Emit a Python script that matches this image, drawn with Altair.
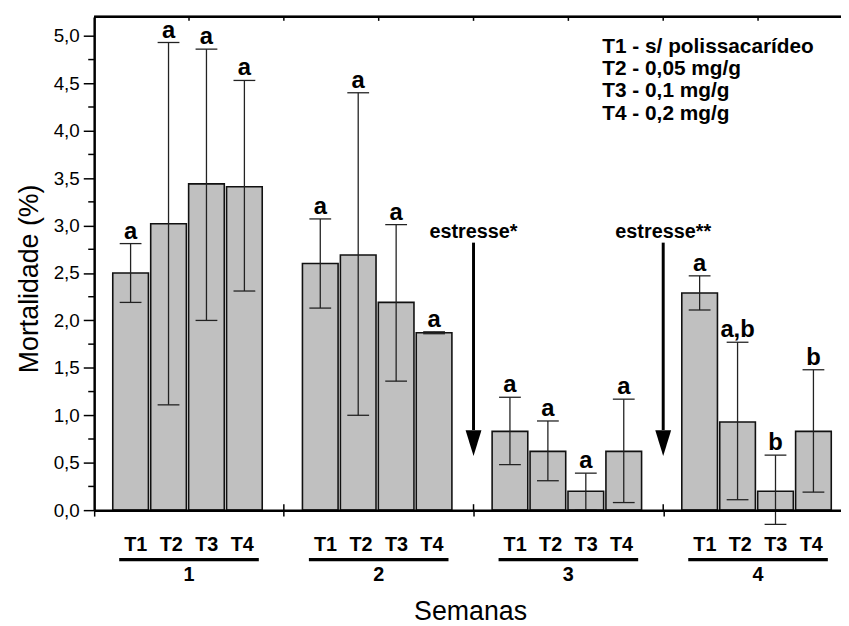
import altair as alt
import pandas as pd

# ---------------- data ----------------
weeks = ["1", "2", "3", "4"]
treatments = ["T1", "T2", "T3", "T4"]
mean = [
    [2.50, 3.02, 3.44, 3.41],
    [2.60, 2.69, 2.19, 1.87],
    [0.83, 0.62, 0.20, 0.62],
    [2.29, 0.93, 0.20, 0.83],
]
err_low = [
    [2.19, 1.11, 2.00, 2.31],
    [2.13, 1.00, 1.36, 1.86],
    [0.48, 0.31, 0.00, 0.08],
    [2.11, 0.11, -0.15, 0.19],
]
err_high = [
    [2.81, 4.93, 4.86, 4.53],
    [3.07, 4.40, 3.01, 1.88],
    [1.19, 0.94, 0.39, 1.17],
    [2.47, 1.77, 0.58, 1.48],
]
letters = [
    ["a", "a", "a", "a"],
    ["a", "a", "a", "a"],
    ["a", "a", "a", "a"],
    ["a", "a,b", "b", "b"],
]
legend_lines = ["T1 - s/ polissacarídeo", "T2 - 0,05 mg/g", "T3 - 0,1 mg/g", "T4 - 0,2 mg/g"]
stress_labels = ["estresse*", "estresse**"]
stress_after_week = [2, 3]
stress_top = 2.82
stress_tip = 0.57
y_ticks = [0.0, 0.5, 1.0, 1.5, 2.0, 2.5, 3.0, 3.5, 4.0, 4.5, 5.0]
y_minor = [0.25, 0.75, 1.25, 1.75, 2.25, 2.75, 3.25, 3.75, 4.25, 4.75]

# ---------------- layout ----------------
PW, PH = 754, 498
STEP = 38.3
XMAX = PW / STEP
YMAX = 5.2
GROUP = 5          # slots per week
HALF = 0.47        # half bar width (slot units)
SHIFT = -0.04
FONT = "Liberation Sans"

rows = []
for wi, w in enumerate(weeks):
    for ti, t in enumerate(treatments):
        pos = wi * GROUP + ti + 1 + SHIFT
        rows.append(dict(week=w, trat=t, pos=pos, x0=pos - HALF, x1=pos + HALF,
                         mean=mean[wi][ti], lo=err_low[wi][ti], hi=err_high[wi][ti],
                         letter=letters[wi][ti]))
df = pd.DataFrame(rows)

wc = [wi * GROUP + GROUP / 2 for wi in range(len(weeks))]
tlab = pd.DataFrame([dict(x=wc[wi] + (ti - 1.5) * 0.935, text=t)
                     for wi in range(len(weeks)) for ti, t in enumerate(treatments)])
wlab = pd.DataFrame(dict(x=wc, text=weeks, xa=[c - 1.84 for c in wc], xb=[c + 1.84 for c in wc]))
seps = pd.DataFrame(dict(x=[wi * GROUP for wi in range(1, len(weeks))]))
topt = pd.DataFrame(dict(x=[k * GROUP / 2 for k in range(1, 2 * len(weeks))]))
minor = pd.DataFrame(dict(v=y_minor))
stress = pd.DataFrame(dict(x=[w * GROUP for w in stress_after_week], text=stress_labels,
                           top=[stress_top] * 2,
                           headtop=[stress_tip + 0.275] * 2,
                           headc=[stress_tip + 0.1375] * 2))
leg = pd.DataFrame(dict(text=["\n".join(legend_lines)]))

xs = alt.Scale(domain=[0, XMAX], nice=False, zero=False)
ys = alt.Scale(domain=[0, YMAX], nice=False)

xaxis = alt.Axis(values=[0, 5, 10, 15], labels=False, title=None, grid=False,
                 tickSize=6, tickWidth=1.5, tickColor="black",
                 domainWidth=2.5, domainColor="black", zindex=1)
yaxis = alt.Axis(values=y_ticks, grid=False, tickSize=11, tickWidth=1.5, tickColor="black",
                 domainWidth=2.5, domainColor="black", labelPadding=4,
                 labelFontSize=19, labelColor="black", labelFont=FONT,
                 labelExpr="replace(format(datum.value, '.1f'), '.', ',')",
                 title="Mortalidade (%)", titleFontSize=27, titleFontWeight="normal",
                 titleFont=FONT, titleColor="black", titleAngle=270,
                 titleX=-57, titleY=264, titleAlign="center", titleBaseline="alphabetic",
                 zindex=1)

bars = alt.Chart(df).mark_rect(fill="#c0c0c0", stroke="#111111", strokeWidth=1.6).encode(
    x=alt.X("x0:Q", scale=xs, axis=xaxis), x2="x1:Q",
    y=alt.Y("mean:Q", scale=ys, axis=yaxis), y2=alt.datum(0))

erule = alt.Chart(df).mark_rule(color="#222222", strokeWidth=1.3).encode(
    x="pos:Q", y="lo:Q", y2="hi:Q")
cap_hi = alt.Chart(df).mark_tick(orient="horizontal", size=22, thickness=1.3, color="#222222",
                                 opacity=1).encode(x="pos:Q", y="hi:Q")
cap_lo = alt.Chart(df).mark_tick(orient="horizontal", size=22, thickness=1.3, color="#222222",
                                 opacity=1).encode(x="pos:Q", y="lo:Q")
lett = alt.Chart(df).mark_text(font=FONT, fontSize=24, fontWeight="bold", baseline="alphabetic",
                               dy=-5, color="black").encode(x="pos:Q", y="hi:Q", text="letter:N")

minor_ticks = alt.Chart(minor).mark_rule(color="black", strokeWidth=1.5).encode(
    y="v:Q", x=alt.value(-6), x2=alt.value(0))
sep_up = alt.Chart(seps).mark_rule(color="black", strokeWidth=1.5).encode(
    x="x:Q", y=alt.value(PH - 6), y2=alt.value(PH))
top_line = alt.Chart(seps).mark_rule(color="black", strokeWidth=2.5).encode(
    x=alt.value(0), x2=alt.value(PW), y=alt.value(0))
top_ticks = alt.Chart(topt).mark_rule(color="black", strokeWidth=1.5).encode(
    x="x:Q", y=alt.value(0), y2=alt.value(4))

shaft = alt.Chart(stress).mark_rule(color="black", strokeWidth=3).encode(
    x="x:Q", y="top:Q", y2="headtop:Q")
head = alt.Chart(stress).mark_point(shape="M-1,-1.625L1,-1.625L0,1.625Z", size=256, filled=True,
                                    color="black", opacity=1, strokeWidth=0).encode(
    x="x:Q", y="headc:Q")
stext = alt.Chart(stress).mark_text(font=FONT, fontSize=20, fontWeight="bold", baseline="alphabetic",
                                    dy=-5, color="black").encode(x="x:Q", y="top:Q", text="text:N")

legend = alt.Chart(leg).mark_text(font=FONT, fontSize=21, fontWeight="bold", align="left",
                                  baseline="alphabetic", lineBreak="\n", lineHeight=22.7,
                                  color="black").encode(
    x=alt.value(513), y=alt.value(36), text="text:N")

tl = alt.Chart(tlab).mark_text(font=FONT, fontSize=20, fontWeight="bold", baseline="alphabetic",
                               color="black").encode(x="x:Q", y=alt.value(539), text="text:N")
wl = alt.Chart(wlab).mark_text(font=FONT, fontSize=20, fontWeight="bold", baseline="alphabetic",
                               color="black").encode(x="x:Q", y=alt.value(570), text="text:N")
ul = alt.Chart(wlab).mark_rule(color="black", strokeWidth=3.3).encode(
    x="xa:Q", x2="xb:Q", y=alt.value(548))
sem = alt.Chart(leg).mark_text(font=FONT, fontSize=27, baseline="alphabetic", color="black").encode(
    x=alt.value(380), y=alt.value(609), text=alt.value("Semanas"))

chart = alt.layer(bars, erule, cap_hi, cap_lo, lett, minor_ticks, sep_up, top_line, top_ticks,
                  shaft, head, stext, legend, tl, wl, ul, sem).properties(
    width=PW, height=PH,
    padding={"left": 87, "top": 6, "right": 0, "bottom": 114},
    autosize=alt.AutoSizeParams(type="none"),
).configure_view(strokeWidth=0).configure(font=FONT)

chart.save("out.html", embed_options={"renderer": "svg", "actions": False})
